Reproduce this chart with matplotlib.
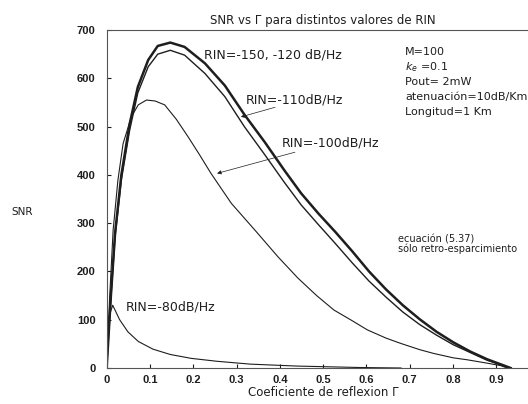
import matplotlib
matplotlib.use("Agg")
import matplotlib.pyplot as plt

plt.rcParams["font.family"] = ["DejaVu Sans"]

# SNR vs reflection coefficient
x_150 = [0.0, 0.0098, 0.0195, 0.034, 0.053, 0.072, 0.096, 0.118, 0.147, 0.18,
         0.227, 0.273, 0.318, 0.365, 0.41, 0.449, 0.489, 0.528, 0.567, 0.606,
         0.645, 0.684, 0.723, 0.762, 0.801, 0.84, 0.879, 0.909, 0.933]
snr_150 = [0, 150, 280, 400, 505, 582, 638, 667, 674, 665,
           631, 585, 525, 468, 410, 362, 320, 282, 242, 200,
           163, 130, 101, 75, 53, 34, 18, 8, 0]

x_110 = [0.0, 0.0098, 0.0195, 0.034, 0.053, 0.072, 0.096, 0.118, 0.147, 0.18,
         0.227, 0.273, 0.318, 0.365, 0.41, 0.449, 0.489, 0.528, 0.567, 0.606,
         0.645, 0.684, 0.723, 0.762, 0.801, 0.84, 0.879, 0.909, 0.933]
snr_110 = [0, 145, 272, 390, 492, 570, 624, 650, 658, 648,
           610, 562, 500, 442, 385, 338, 297, 258, 218, 180,
           147, 116, 90, 68, 48, 32, 16, 7, 0]

x_100 = [0.0, 0.007, 0.015, 0.026, 0.038, 0.057, 0.073, 0.092, 0.112, 0.134,
         0.161, 0.188, 0.215, 0.241, 0.288, 0.342, 0.396, 0.442, 0.485, 0.525,
         0.567, 0.602, 0.645, 0.679, 0.723, 0.756, 0.801, 0.833, 0.879, 0.91, 0.925]
snr_100 = [0, 148, 286, 389, 465, 520, 545, 555, 553, 545,
           515, 479, 441, 403, 341, 286, 230, 186, 150, 120,
           98, 79, 62, 51, 38, 30, 21, 17, 10, 5, 0]

x_80 = [0.0, 0.003, 0.014, 0.03, 0.049, 0.073, 0.107, 0.147, 0.195, 0.254,
        0.332, 0.44, 0.586, 0.68]
snr_80 = [0, 100, 130, 100, 75, 55, 39, 28, 20, 14,
          8, 4, 1, 0]

x_ticks = [0, 0.1, 0.2, 0.3, 0.4, 0.5, 0.6, 0.7, 0.8, 0.9]
x_tick_labels = ["0", "0.1", "0.2", "0.3", "0.4", "0.5", "0.6", "0.7", "0.8", "0.9"]
y_ticks = [0, 100, 200, 300, 400, 500, 600, 700]

params = ["M=100", "$k_e$ =0.1", "Pout= 2mW", "atenuación=10dB/Km", "Longitud=1 Km"]

ink = "#1e1e1e"

fig = plt.figure(figsize=(5.28, 4.04), dpi=100)
ax = fig.add_axes([0.2020, 0.0891, 0.820, 0.8366])

ax.plot(x_150, snr_150, color=ink, lw=1.8)
ax.plot(x_110, snr_110, color=ink, lw=1.0)
ax.plot(x_100, snr_100, color=ink, lw=0.8)
ax.plot(x_80, snr_80, color=ink, lw=0.8)

ax.set_xlim(0, 1)
ax.set_ylim(0, 700)
ax.set_xticks(x_ticks)
ax.set_xticklabels(x_tick_labels)
ax.set_yticks(y_ticks)
ax.tick_params(direction="in", length=3, labelsize=8, colors=ink)
ax.tick_params(axis="y", pad=8)
ax.tick_params(axis="x", pad=5)
for lab in ax.get_xticklabels() + ax.get_yticklabels():
    lab.set_fontweight("bold")
    lab.set_family("Liberation Sans")
for sp in ax.spines.values():
    sp.set_color("#555555")
    sp.set_linewidth(0.8)

ax.set_title("SNR vs Γ para distintos valores de RIN", fontsize=8.5, color=ink, pad=4)
ax.set_xlabel("Coeficiente de reflexion Γ", fontsize=8.5, color=ink, labelpad=1)
fig.text(0.042, 0.475, "SNR", fontsize=7.5, color=ink, ha="center", va="center")

arrow = dict(arrowstyle="-|>", color=ink, lw=0.5, mutation_scale=6, shrinkA=0, shrinkB=0)
ax.text(0.225, 648, "RIN=-150, -120 dB/Hz", fontsize=9, color=ink, va="center")
ax.text(0.322, 555, "RIN=-110dB/Hz", fontsize=9, color=ink, va="center")
ax.annotate("", xy=(0.31, 520), xytext=(0.389, 540), arrowprops=arrow)
ax.text(0.404, 466, "RIN=-100dB/Hz", fontsize=9, color=ink, va="center")
ax.annotate("", xy=(0.255, 403), xytext=(0.435, 447), arrowprops=arrow)
ax.text(0.044, 127, "RIN=-80dB/Hz", fontsize=9, color=ink, va="center")

for i, line in enumerate(params):
    ax.text(0.689, 654 - i * 31, line, fontsize=8, color=ink, va="center")

ax.text(0.674, 257, "ecuación (5.37)\nsólo retro-esparcimiento", fontsize=7,
        color=ink, va="center", linespacing=0.85)

fig.savefig("out.png", dpi=100)
